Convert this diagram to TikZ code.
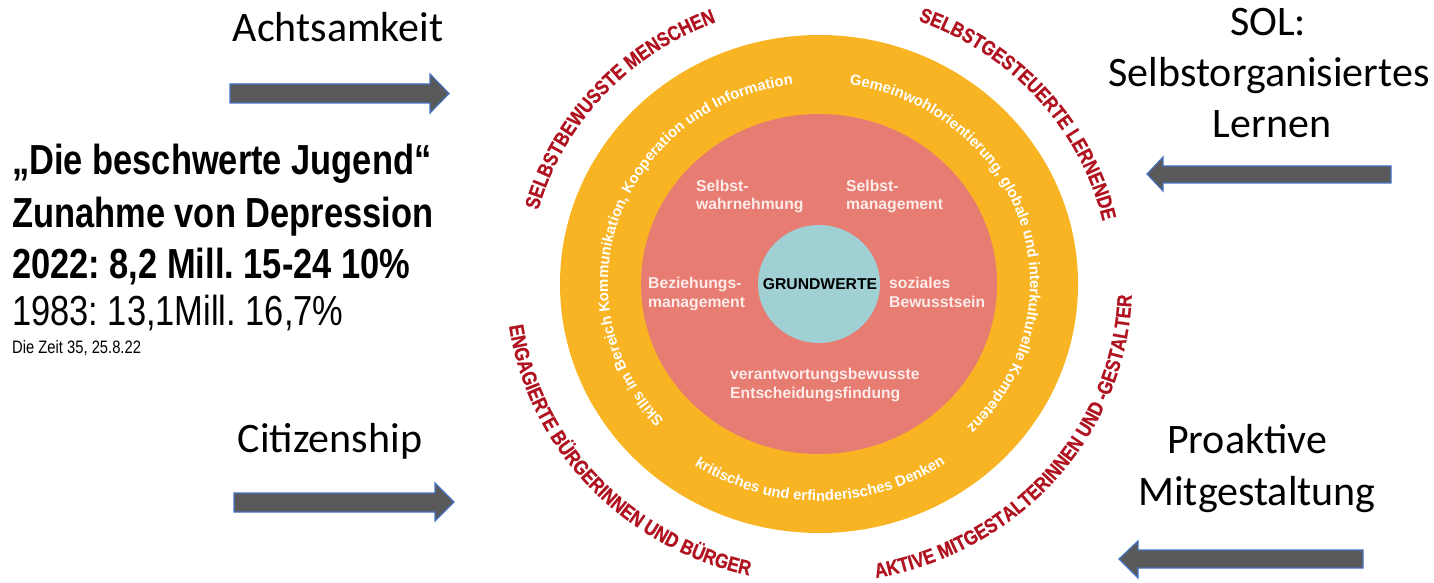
\documentclass[tikz,border=0pt]{standalone}
\usepackage{fontspec}
\setmainfont{Liberation Sans}
\newfontfamily\carl{Carlito}
\newfontfamily\narrowf[FakeStretch=0.82]{Liberation Sans}
\newfontfamily\redf[FakeStretch=0.84,FakeBold=0.8]{Liberation Sans}
\usetikzlibrary{decorations.text}
\definecolor{ringorange}{HTML}{F8B423}
\definecolor{ringsalmon}{HTML}{E77C72}
\definecolor{coreteal}{HTML}{A0D0D4}
\definecolor{redtxt}{HTML}{B0121F}
\definecolor{salmontxt}{HTML}{FDECE9}
\definecolor{arrowfill}{HTML}{595959}
\definecolor{arrowline}{HTML}{4472C4}
\newcommand\ringredfont{\color{redtxt}\redf\bfseries\fontsize{20.5}{23}\selectfont}
\newcommand\ringwhitefont{\color{white}\bfseries\fontsize{14.9}{17}\selectfont}
\frenchspacing
\begin{document}
\begin{tikzpicture}[x=1pt,y=1pt,
  bigcarl/.style={font=\carl\fontsize{42}{51}\selectfont, inner sep=0pt, anchor=base},
  leftbold/.style={font=\narrowf\bfseries\fontsize{42}{50}\selectfont, inner sep=0pt, anchor=base west},
  leftreg/.style={font=\narrowf\fontsize{42}{50}\selectfont, inner sep=0pt, anchor=base west},
  leftsmall/.style={font=\narrowf\fontsize{18}{20}\selectfont, inner sep=0pt, anchor=base west},
  blockarrow/.style={fill=arrowfill, draw=arrowline, line width=1.2pt, line join=miter},
  inlabel/.style={font=\bfseries\fontsize{15.7}{18.5}\selectfont, text=salmontxt, align=left, inner sep=0pt, anchor=base west},
  ringtext/.style={decorate, decoration={text along path, text align=center, text={#1}}}
]
\useasboundingbox (0,0) rectangle (1434,582);
\coordinate (C) at (819,298);

% rings
\fill[ringorange] (C) ellipse [x radius=259, y radius=249];
\fill[ringsalmon] (C) ellipse [x radius=178, y radius=170];
\fill[coreteal] (C) ellipse [x radius=61, y radius=59];

% inner labels (anchor = baseline of the last line)
\node[font=\bfseries\fontsize{15.7}{18}\selectfont, text=black, inner sep=0pt, anchor=base] (grund) at (820,293) {GRUNDWERTE};
\node[inlabel] (wahr) at (696,372) {Selbst-\\wahrnehmung};
\node[inlabel] (selbstman) at (846,372) {Selbst-\\management};
\node[inlabel] (bez) at (648,275) {Beziehungs-\\management};
\node[inlabel] (soz) at (889,275) {soziales\\Bewusstsein};
\node[inlabel] (verant) at (730,184) {verantwortungsbewusste\\Entscheidungsfindung};

% white ring texts
\path[shift={(819,298)}, ringtext={|\ringwhitefont|Skills im Bereich Kommunikation, Kooperation und Information}]
  (232:211 and 201) arc[start angle=232, end angle=88, x radius=211, y radius=201];
\path[shift={(819,298)}, ringtext={|\ringwhitefont|Gemeinwohlorientierung, globale und interkulturelle Kompetenz}]
  (92:211 and 201) arc[start angle=92, end angle=-56, x radius=211, y radius=201];
\path[shift={(819,298)}, ringtext={|\ringwhitefont|kritisches und erfinderisches Denken}]
  (230.3:226 and 217) arc[start angle=230.3, end angle=310.3, x radius=226, y radius=217];

% red outer texts
\path[shift={(819,298)}, ringtext={|\ringredfont|SELBSTBEWUSSTE MENSCHEN}]
  (180:291 and 280) arc[start angle=180, end angle=96, x radius=291, y radius=280];
\path[shift={(819,298)}, ringtext={|\ringredfont|SELBSTGESTEUERTE LERNENDE}]
  (83.3:291 and 280) arc[start angle=83.3, end angle=-0.7, x radius=291, y radius=280];
\path[shift={(819,298)}, ringtext={|\ringredfont|ENGAGIERTE BÜRGERINNEN UND BÜRGER}]
  (175.3:313 and 299) arc[start angle=175.3, end angle=269.3, x radius=313, y radius=299];
\path[shift={(819,298)}, ringtext={|\ringredfont|AKTIVE MITGESTALTERINNEN UND -GESTALTER}]
  (266.5:313 and 299) arc[start angle=266.5, end angle=372.5, x radius=313, y radius=299];

% side labels
\node[bigcarl] (acht) at (338,540) {Achtsamkeit};
\node[bigcarl] (sol1) at (1268,546) {SOL:};
\node[bigcarl] (sol2) at (1269,495) {Selbstorganisiertes};
\node[bigcarl] (sol3) at (1272,444) {Lernen};
\node[bigcarl] (citi) at (330,130) {Citizenship};
\node[bigcarl] (pro1) at (1247,129) {Proaktive};
\node[bigcarl] (pro2) at (1257,77) {Mitgestaltung};

% left text block
\node[leftbold] (l1) at (12,407) {„Die beschwerte Jugend“};
\node[leftbold] (l2) at (12,355) {Zunahme von Depression};
\node[leftbold] (l3) at (12,304) {2022: 8,2 Mill. 15-24 10\%};
\node[leftreg] (l4) at (12,257) {1983: 13,1Mill. 16,7\%};
\node[leftsmall] (l5) at (12,229) {Die Zeit 35, 25.8.22};

% block arrows
\draw[blockarrow] (230,498) -- (430,498) -- (430,508) -- (449,488.5) -- (430,469) -- (430,479) -- (230,479) -- cycle;
\draw[blockarrow] (1391,416) -- (1163,416) -- (1163,425) -- (1147,408) -- (1163,391) -- (1163,399) -- (1391,399) -- cycle;
\draw[blockarrow] (234,89) -- (435,89) -- (435,99) -- (454,80) -- (435,61) -- (435,70) -- (234,70) -- cycle;
\draw[blockarrow] (1363,32) -- (1138,32) -- (1138,41) -- (1119,23) -- (1138,4) -- (1138,14) -- (1363,14) -- cycle;
\end{tikzpicture}
\end{document}
